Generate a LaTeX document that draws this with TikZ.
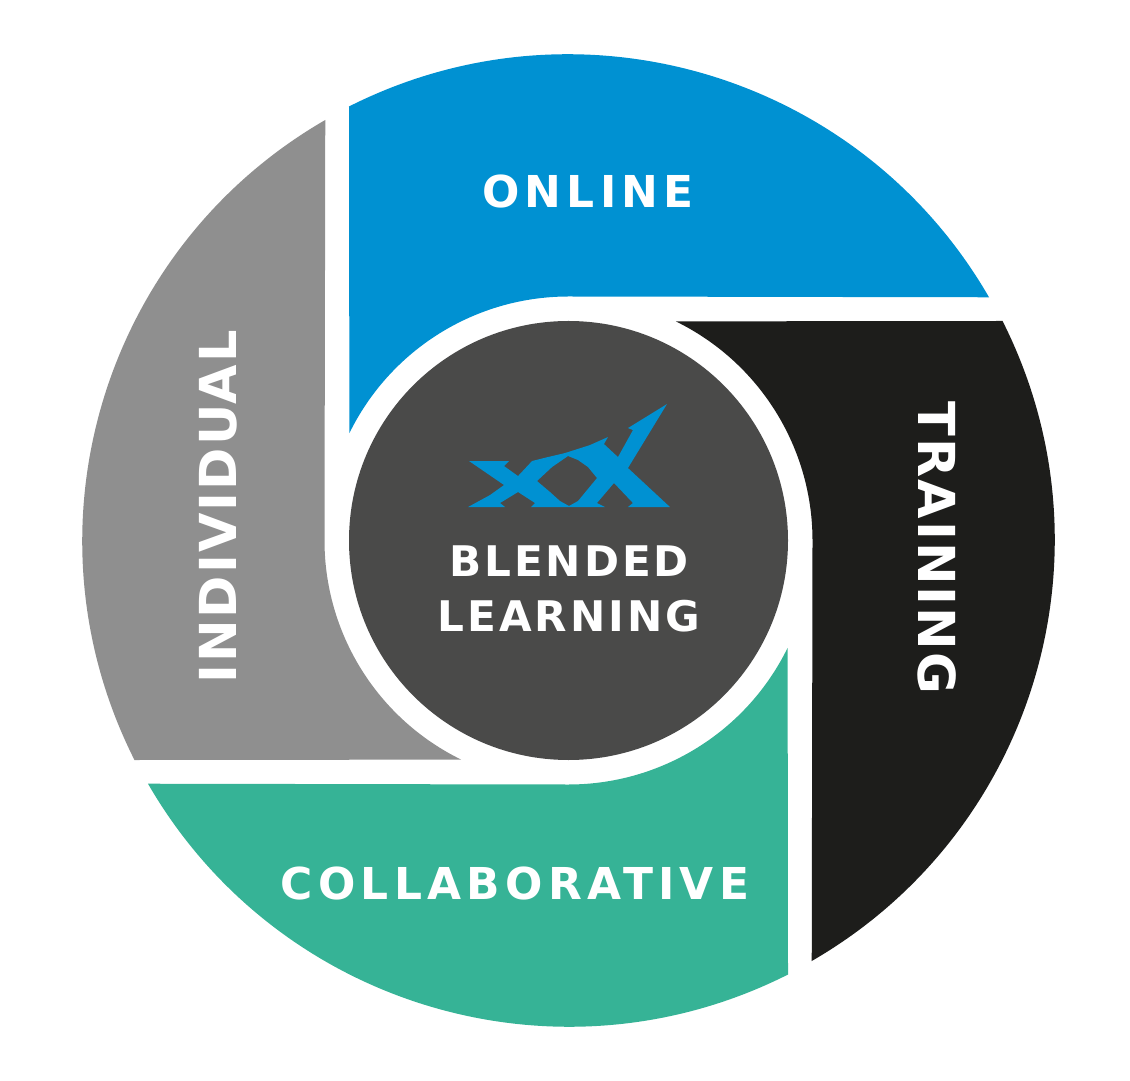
\documentclass[tikz,border=0pt]{standalone}
\usepackage{fontspec}
\setmainfont{DejaVu Sans}
\newfontfamily\lblfont[LetterSpace=12]{DejaVu Sans Bold}
\newfontfamily\sidefont[LetterSpace=4]{DejaVu Sans Bold}
\newfontfamily\hubfont[LetterSpace=7]{DejaVu Sans Bold}
\definecolor{onlineblue}{RGB}{0,145,210}
\definecolor{trainingblack}{RGB}{29,29,27}
\definecolor{collabgreen}{RGB}{54,179,150}
\definecolor{individualgray}{RGB}{143,143,143}
\definecolor{hubgray}{RGB}{74,74,73}

\begin{document}
\begin{tikzpicture}[petal/.style = {draw = none}, lbl/.style = {text = white, inner sep = 0pt, font = \lblfont\fontsize{12.5}{15}\selectfont}, sidelbl/.style = {text = white, inner sep = 0pt, font = \sidefont\fontsize{14.5}{17}\selectfont}, hublbl/.style = {text = white, inner sep = 0pt, font = \hubfont\fontsize{12}{14}\selectfont}]
	\useasboundingbox (-5.685,-5.395) rectangle (5.615,5.405);
	% four petals, each one a quarter turn from the last
	\foreach \rot/\col in {0/onlineblue, -90/trainingblack, -180/collabgreen, -270/individualgray}
		\fill[petal, fill = \col, rotate = \rot] (-2.195,4.34) arc[start angle = 116.8, end angle = 30, radius = 4.86] -- (0,2.44) arc[start angle = 90, end angle = 153.9, radius = 2.44] -- cycle;
	\node[circle, fill = hubgray, minimum size = 4.39cm, inner sep = 0pt] (hub) at (0,0) {};
	% logo, traced in pixels of the picture
	\begin{scope}[x = 0.01cm, y = -0.01cm, shift = {(-568.5,-540.5)}]
		\fill[onlineblue, even odd rule] (469,461) -- (509,461) -- (504,466) -- (518,476) -- (532,461) -- (548,457) -- (565,453) -- (590,445) -- (608,437) -- (604,444) -- (618,457) -- (633,430) -- (628,428) -- (667,404) -- (628,468) -- (670,507) -- (628,507) -- (633,503) -- (614,483) -- (597,503) -- (605,507) -- (531,507) -- (535,503) -- (518,492) -- (500,503) -- (505,507) -- (468,507) -- (490,495) -- (504,485) -- cycle
			(568,456) -- (552,467) -- (537,481) -- (550,492) -- (560,501) -- (569,506) -- (578,501) -- (597,478) -- (588,467) -- (578,460) -- cycle;
	\end{scope}
	\node[lbl] (online) at (0.195,3.485) {ONLINE};
	\node[sidelbl, rotate = -90] (training) at (3.685,-0.075) {TRAINING};
	\node[lbl] (collab) at (-0.535,-3.425) {COLLABORATIVE};
	\node[sidelbl, rotate = 90] (individual) at (-3.505,0.335) {INDIVIDUAL};
	\node[hublbl] (blended) at (0.005,-0.205) {BLENDED};
	\node[hublbl] (learning) at (0.005,-0.755) {LEARNING};
\end{tikzpicture}
\end{document}
